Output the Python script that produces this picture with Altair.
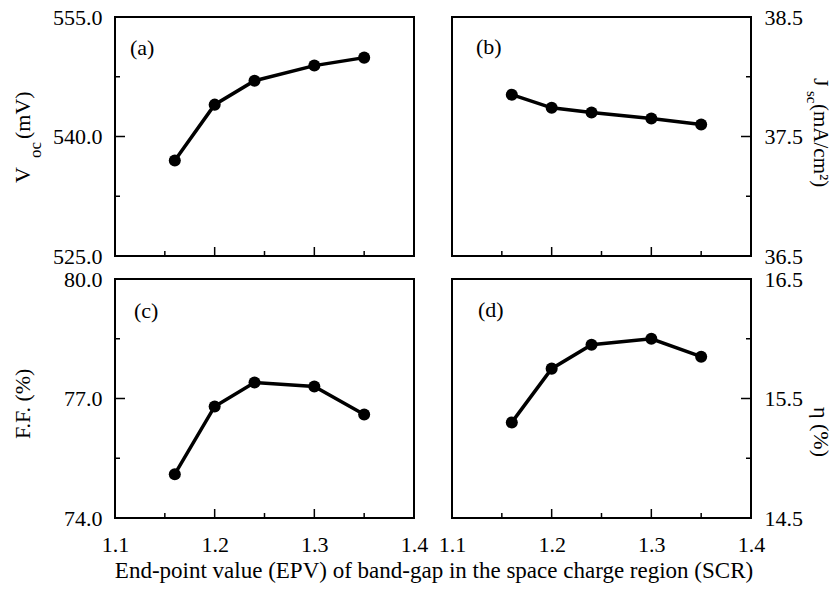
import altair as alt
import pandas as pd

FONT = "Liberation Serif"

# data
epv = [1.16, 1.20, 1.24, 1.30, 1.35]
voc = [537.0, 544.0, 547.0, 548.9, 549.9]
jsc = [37.85, 37.74, 37.70, 37.65, 37.60]
ff = [75.10, 76.80, 77.40, 77.30, 76.60]
eta = [15.30, 15.75, 15.95, 16.00, 15.85]

x_domain = [1.1, 1.4]
x_labels = [1.1, 1.2, 1.3, 1.4]
x_major = [1.2, 1.3]
x_minor = [1.15, 1.25, 1.35]

W, H = 299, 239


def text_mark(s, x, y, size=22, angle=0, align="left", baseline="alphabetic", color="black"):
    return alt.Chart(pd.DataFrame({"t": [s]})).mark_text(
        align=align, baseline=baseline, angle=angle, font=FONT,
        fontSize=size, color=color
    ).encode(text="t:N", x=alt.value(x), y=alt.value(y))


def panel(values, ydom, ylabels, ymajor, yminor, side, letter, lpos, show_x, extras):
    df = pd.DataFrame({"epv": epv, "val": values})
    xs = alt.Scale(domain=x_domain, nice=False, zero=False)
    ys = alt.Scale(domain=ydom, nice=False, zero=False)
    xaxis = alt.Axis(values=x_labels, format=".1f", labelPadding=16, labels=show_x,
                     labelFlush=False, labelOverlap=False, labelBaseline="top",
                     ticks=False, domain=False, grid=False, title=None)
    yaxis = alt.Axis(orient=side, values=ylabels, format=".1f", labelPadding=13,
                     labelOverlap=False, labelFlush=False,
                     ticks=False, domain=False, grid=False, title=None)
    X = lambda f: alt.X(f, scale=xs, axis=xaxis)
    Y = lambda f: alt.Y(f, scale=ys, axis=yaxis)
    base = alt.Chart(df)
    line = base.mark_line(color="black", strokeWidth=3.5).encode(x=X("epv:Q"), y=Y("val:Q"))
    pts = base.mark_circle(color="black", opacity=1, size=145).encode(x=X("epv:Q"), y=Y("val:Q"))
    layers = [line, pts]
    # inward x ticks
    layers.append(alt.Chart(pd.DataFrame({"epv": x_major})).mark_rule(color="black", strokeWidth=1.5).encode(
        x=X("epv:Q"), y=alt.value(H), y2=alt.value(H - 9)))
    layers.append(alt.Chart(pd.DataFrame({"epv": x_minor})).mark_rule(color="black", strokeWidth=1.5).encode(
        x=X("epv:Q"), y=alt.value(H), y2=alt.value(H - 5)))
    # inward y ticks
    if side == "left":
        x0, xM, xm = 0, 10, 5
    else:
        x0, xM, xm = W, W - 10, W - 5
    layers.append(alt.Chart(pd.DataFrame({"val": ymajor})).mark_rule(color="black", strokeWidth=1.5).encode(
        y=Y("val:Q"), x=alt.value(x0), x2=alt.value(xM)))
    layers.append(alt.Chart(pd.DataFrame({"val": yminor})).mark_rule(color="black", strokeWidth=1.5).encode(
        y=Y("val:Q"), x=alt.value(x0), x2=alt.value(xm)))
    layers.append(text_mark(letter, lpos[0], lpos[1]))
    layers.extend(extras)
    return alt.layer(*layers).properties(width=W, height=H)


# invisible anchor fixing the top-left corner of the page
anchor = alt.Chart(pd.DataFrame({"t": [0]})).mark_rule(color="white", strokeWidth=1).encode(
    x=alt.value(-113.5), x2=alt.value(-113), y=alt.value(-15.5))

# axis titles as text pieces (to allow subscripts)
title_a = [
    text_mark("V", -85, 166, angle=270),
    text_mark("oc", -74, 141, size=17, angle=270),
    text_mark("(mV)", -85, 122, angle=270),
]
title_b = [
    text_mark("J", 362, 61, angle=90),
    text_mark("sc", 355, 74, size=15, angle=90),
    text_mark("(mA/cm²)", 362, 87, size=21, angle=90),
]
title_c = [
    text_mark("F.F. (%)", -85, 160, angle=270),
    text_mark("End-point value (EPV) of band-gap in the space charge region (SCR)",
              319, 299, size=23, align="center"),
]
title_d = [
    text_mark("η (%)", 362, 128, angle=90),
]

pa = panel(voc, [525, 555], [525, 540, 555], [540], [532.5, 547.5], "left",
           "(a)", (15, 38), False, title_a + [anchor])
pb = panel(jsc, [36.5, 38.5], [36.5, 37.5, 38.5], [37.5], [37.0, 38.0], "right",
           "(b)", (24, 37), False, title_b)
pc = panel(ff, [74, 80], [74, 77, 80], [77], [75.5, 78.5], "left",
           "(c)", (19, 39), True, title_c)
pd_ = panel(eta, [14.5, 16.5], [14.5, 15.5, 16.5], [15.5], [15.0, 16.0], "right",
            "(d)", (26, 38), True, title_d)

chart = alt.concat(
    pa, pb, pc, pd_, columns=2,
    spacing=alt.RowColnumber(row=23, column=38), bounds="flush",
).properties(padding=0, background="white").configure_view(
    stroke="black", strokeWidth=2
).configure_axis(
    labelFont=FONT, labelFontSize=22, labelColor="black",
)

chart.save("out.html", embed_options={"renderer": "svg", "actions": False})
